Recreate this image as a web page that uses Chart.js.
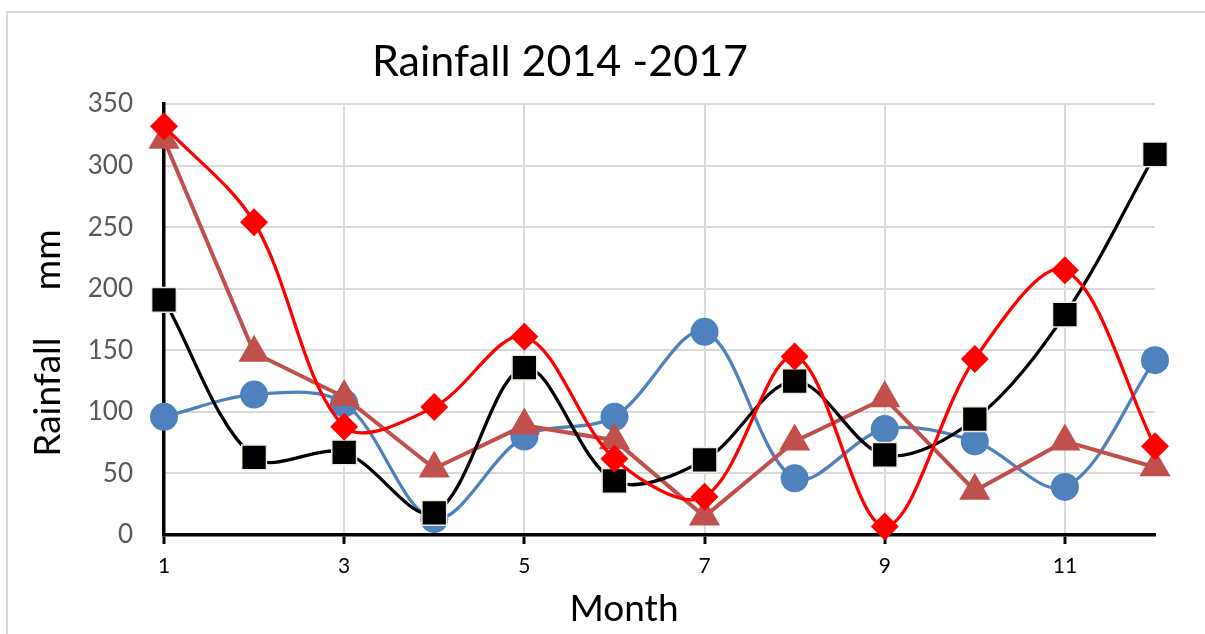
<!DOCTYPE html>
<html><head><meta charset="utf-8">
<script src="https://cdn.jsdelivr.net/npm/chart.js@4.4.1/dist/chart.umd.min.js"></script>
<style>
html,body{margin:0;padding:0;background:#fff;overflow:hidden;}
#frame{position:absolute;left:6px;top:11px;width:1400px;height:900px;border:2px solid #D9D9D9;box-sizing:border-box;}
#c{position:absolute;left:0;top:0;}
</style></head><body>
<div id="frame"></div>
<canvas id="c" width="1205" height="634"></canvas>
<script>
const months = [1,2,3,4,5,6,7,8,9,10,11,12];
const xTickValues = [1,3,5,7,9,11];
const yMin = 0, yMax = 350, yStep = 50;
const seriesBlue  = [96,114,107,13,80,96,165,46,86,76,39,142];
const seriesBlack = [191,63,67,18,136,44,61,125,65,94,179,309];
const seriesRed   = [332,254,88,104,161,62,31,145,7,143,215,72];
const seriesBrown = [321,148,112,54,89,77,15,76,111,36,76,55];
const chartTitle = 'Rainfall 2014 -2017';
const yTitle = 'Rainfall     mm';
const xTitle = 'Month';

const toPts = arr => months.map((m,i)=>({x:m, y:arr[i]}));

Chart.defaults.font.family = 'Lato, "Open Sans", sans-serif';

const titlesPlugin = {
  id:'titles',
  afterDraw(chart){
    const ctx = chart.ctx;
    ctx.save();
    ctx.fillStyle = '#000';
    ctx.textAlign = 'center';
    ctx.textBaseline = 'alphabetic';
    ctx.font = '43px Lato';
    ctx.fillText(chartTitle, 560, 76);
    ctx.font = '37px Lato';
    ctx.fillText(xTitle, 624, 621);
    ctx.translate(60, 343);
    ctx.rotate(-Math.PI/2);
    ctx.fillText(yTitle, 0, 0);
    ctx.restore();
  }
};

new Chart(document.getElementById('c'), {
  type:'line',
  data:{
    datasets:[
      {data:toPts(seriesRed), borderColor:'#FF0000', backgroundColor:'#FF0000', borderWidth:3.3,
       tension:0.33, pointStyle:'rectRot', pointRadius:14, pointBorderWidth:0, clip:false},
      {data:toPts(seriesBlack), borderColor:'#000000', backgroundColor:'#000000', borderWidth:3.3,
       tension:0.33, pointStyle:'rect', pointRadius:17.5, pointBorderColor:'#EFEBDD', pointBorderWidth:1.5, clip:false},
      {data:toPts(seriesBrown), borderColor:'#C0504D', backgroundColor:'#C0504D', borderWidth:4,
       tension:0, pointStyle:'triangle', pointRadius:18, pointBorderWidth:0, clip:false},
      {data:toPts(seriesBlue), borderColor:'#4F81BD', backgroundColor:'#4F81BD', borderWidth:3.3,
       tension:0.33, pointStyle:'circle', pointRadius:14, pointBorderWidth:0, clip:false}
    ]
  },
  options:{
    responsive:false,
    animation:false,
    events:[],
    layout:{padding:{top:104, right:50, left:0, bottom:0}},
    plugins:{legend:{display:false}, title:{display:false}, tooltip:{enabled:false}},
    scales:{
      x:{type:'linear', min:1, max:12,
        afterBuildTicks: s => { s.ticks = xTickValues.map(v=>({value:v})); },
        grid:{color:'#D9D9D9', lineWidth:2, tickColor:'#000', tickWidth:3, tickLength:9, drawTicks:true},
        border:{color:'#000', width:3.5},
        ticks:{color:'#000', font:{size:21}, padding:10, maxRotation:0, autoSkip:false},
        afterFit: s => { s.height = 99; }
      },
      y:{min:yMin, max:yMax,
        ticks:{stepSize:yStep, color:'#595959', font:{size:26}, padding:31},
        grid:{color:'#D9D9D9', lineWidth:2, drawTicks:false},
        border:{color:'#000', width:3.5},
        afterFit: s => { s.width = 164; }
      }
    }
  },
  plugins:[titlesPlugin]
});
</script>
</body></html>
